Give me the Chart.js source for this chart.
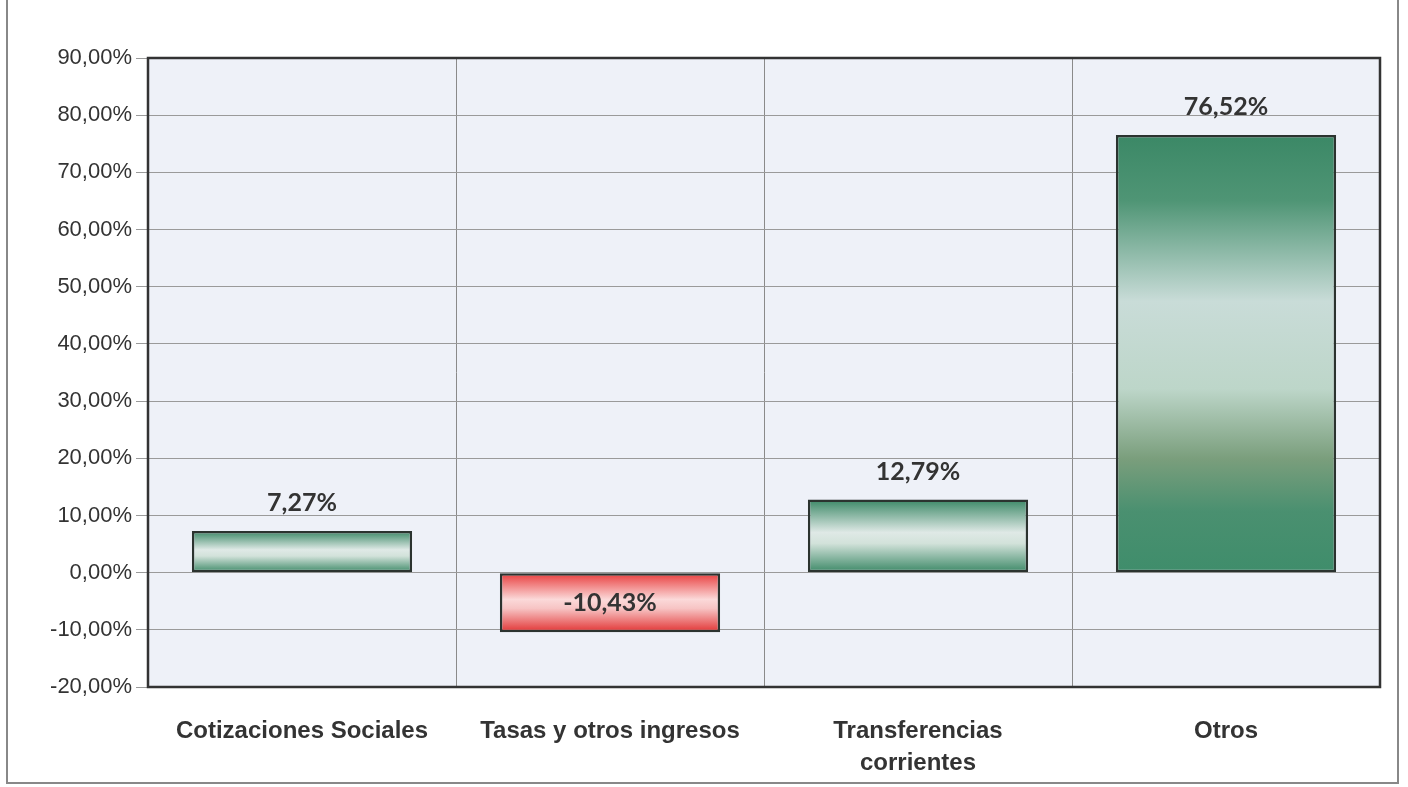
<!DOCTYPE html>
<html>
<head>
<meta charset="utf-8">
<script src="https://cdn.jsdelivr.net/npm/chart.js@4"></script>
<style>
  body { margin: 0; background: #fff; }
  #wrap { width: 1408px; height: 787px; }
</style>
</head>
<body>
<div id="wrap"><canvas id="chart-ingresos" width="1408" height="787"></canvas></div>
<script>
var categorias = ["Cotizaciones Sociales", "Tasas y otros ingresos", ["Transferencias", "corrientes"], "Otros"];
var variacion = [7.27, -10.43, 12.79, 76.52];
var yMin = -20, yMax = 90, yStep = 10;

function pct(v, dec) {
    return v.toFixed(dec).replace('.', ',') + '%';
}

// gradiente vertical por barra (oscuro - claro - oscuro)
function barFill(ctx) {
    var chart = ctx.chart;
    var y = chart.scales.y;
    if (!y || !chart.chartArea) return '#3d8a68';
    var v = ctx.raw;
    var top = y.getPixelForValue(Math.max(v, 0));
    var bot = y.getPixelForValue(Math.min(v, 0));
    var g = chart.ctx.createLinearGradient(0, top, 0, bot);
    if (v < 0) {
        g.addColorStop(0, '#e83a3a');
        g.addColorStop(0.45, '#fbd9d9');
        g.addColorStop(0.6, '#f7c4c4');
        g.addColorStop(1, '#e23333');
    } else if (v > 50) {
        g.addColorStop(0, '#3b8866');
        g.addColorStop(0.15, '#4f9575');
        g.addColorStop(0.38, '#c9dcd8');
        g.addColorStop(0.58, '#bdd6c9');
        g.addColorStop(0.74, '#7a9e7c');
        g.addColorStop(0.86, '#4a9070');
        g.addColorStop(1, '#3f8d6b');
    } else {
        g.addColorStop(0, '#3b8866');
        g.addColorStop(0.45, '#dfe9e6');
        g.addColorStop(0.6, '#d2e2da');
        g.addColorStop(1, '#3b8866');
    }
    return g;
}

var marco = {
    id: 'marco',
    beforeDraw: function (chart) {
        var c = chart.ctx, a = chart.chartArea;
        c.save();
        c.fillStyle = '#eef1f8';
        c.fillRect(a.left, a.top, a.right - a.left, a.bottom - a.top);
        c.restore();
    },
    afterDatasetsDraw: function (chart) {
        var c = chart.ctx, a = chart.chartArea;
        c.save();
        c.strokeStyle = '#333';
        c.lineWidth = 2.5;
        c.strokeRect(a.left, a.top, a.right - a.left, a.bottom - a.top);
        // marco exterior
        c.strokeStyle = '#888';
        c.lineWidth = 2;
        c.beginPath();
        c.moveTo(7, 0);
        c.lineTo(7, 783);
        c.lineTo(1398, 783);
        c.lineTo(1398, 0);
        c.stroke();
        // etiquetas de valor
        c.fillStyle = '#333';
        c.font = 'bold 25px "Lato", "DejaVu Sans", sans-serif';
        c.textAlign = 'center';
        c.textBaseline = 'middle';
        chart.getDatasetMeta(0).data.forEach(function (bar, i) {
            var v = variacion[i];
            var ty = v >= 0 ? bar.y - 28 : (bar.y + bar.base) / 2;
            c.fillText(pct(v, 2), bar.x, ty);
        });
        c.restore();
    }
};

new Chart(document.getElementById('chart-ingresos'), {
    type: 'bar',
    data: {
        labels: categorias,
        datasets: [{
            data: variacion,
            backgroundColor: barFill,
            borderColor: '#2b332f',
            borderWidth: 2.5,
            borderSkipped: false,
            categoryPercentage: 1,
            barPercentage: 0.715
        }]
    },
    options: {
        responsive: false,
        animation: false,
        layout: { padding: { top: 58, right: 28, left: 0, bottom: 0 } },
        plugins: { legend: { display: false }, tooltip: { enabled: false } },
        scales: {
            x: {
                offset: true,
                grid: { offset: true, color: '#8a8a8a', lineWidth: 1, drawTicks: false },
                border: { display: false },
                ticks: {
                    color: '#333',
                    padding: 28,
                    font: { family: '"Liberation Sans", Arial, sans-serif', size: 24, weight: 'bold', lineHeight: 1.35 }
                },
                afterFit: function (s) { s.height = 100; }
            },
            y: {
                min: yMin,
                max: yMax,
                grid: { color: '#9a9a9a', lineWidth: 1, tickLength: 12 },
                border: { display: false },
                ticks: {
                    stepSize: yStep,
                    color: '#333',
                    padding: 4,
                    font: { family: '"Liberation Sans", Arial, sans-serif', size: 22 },
                    callback: function (v) { return pct(v, 2); }
                },
                afterFit: function (s) { s.width = 148; }
            }
        }
    },
    plugins: [marco]
});
</script>
</body>
</html>
